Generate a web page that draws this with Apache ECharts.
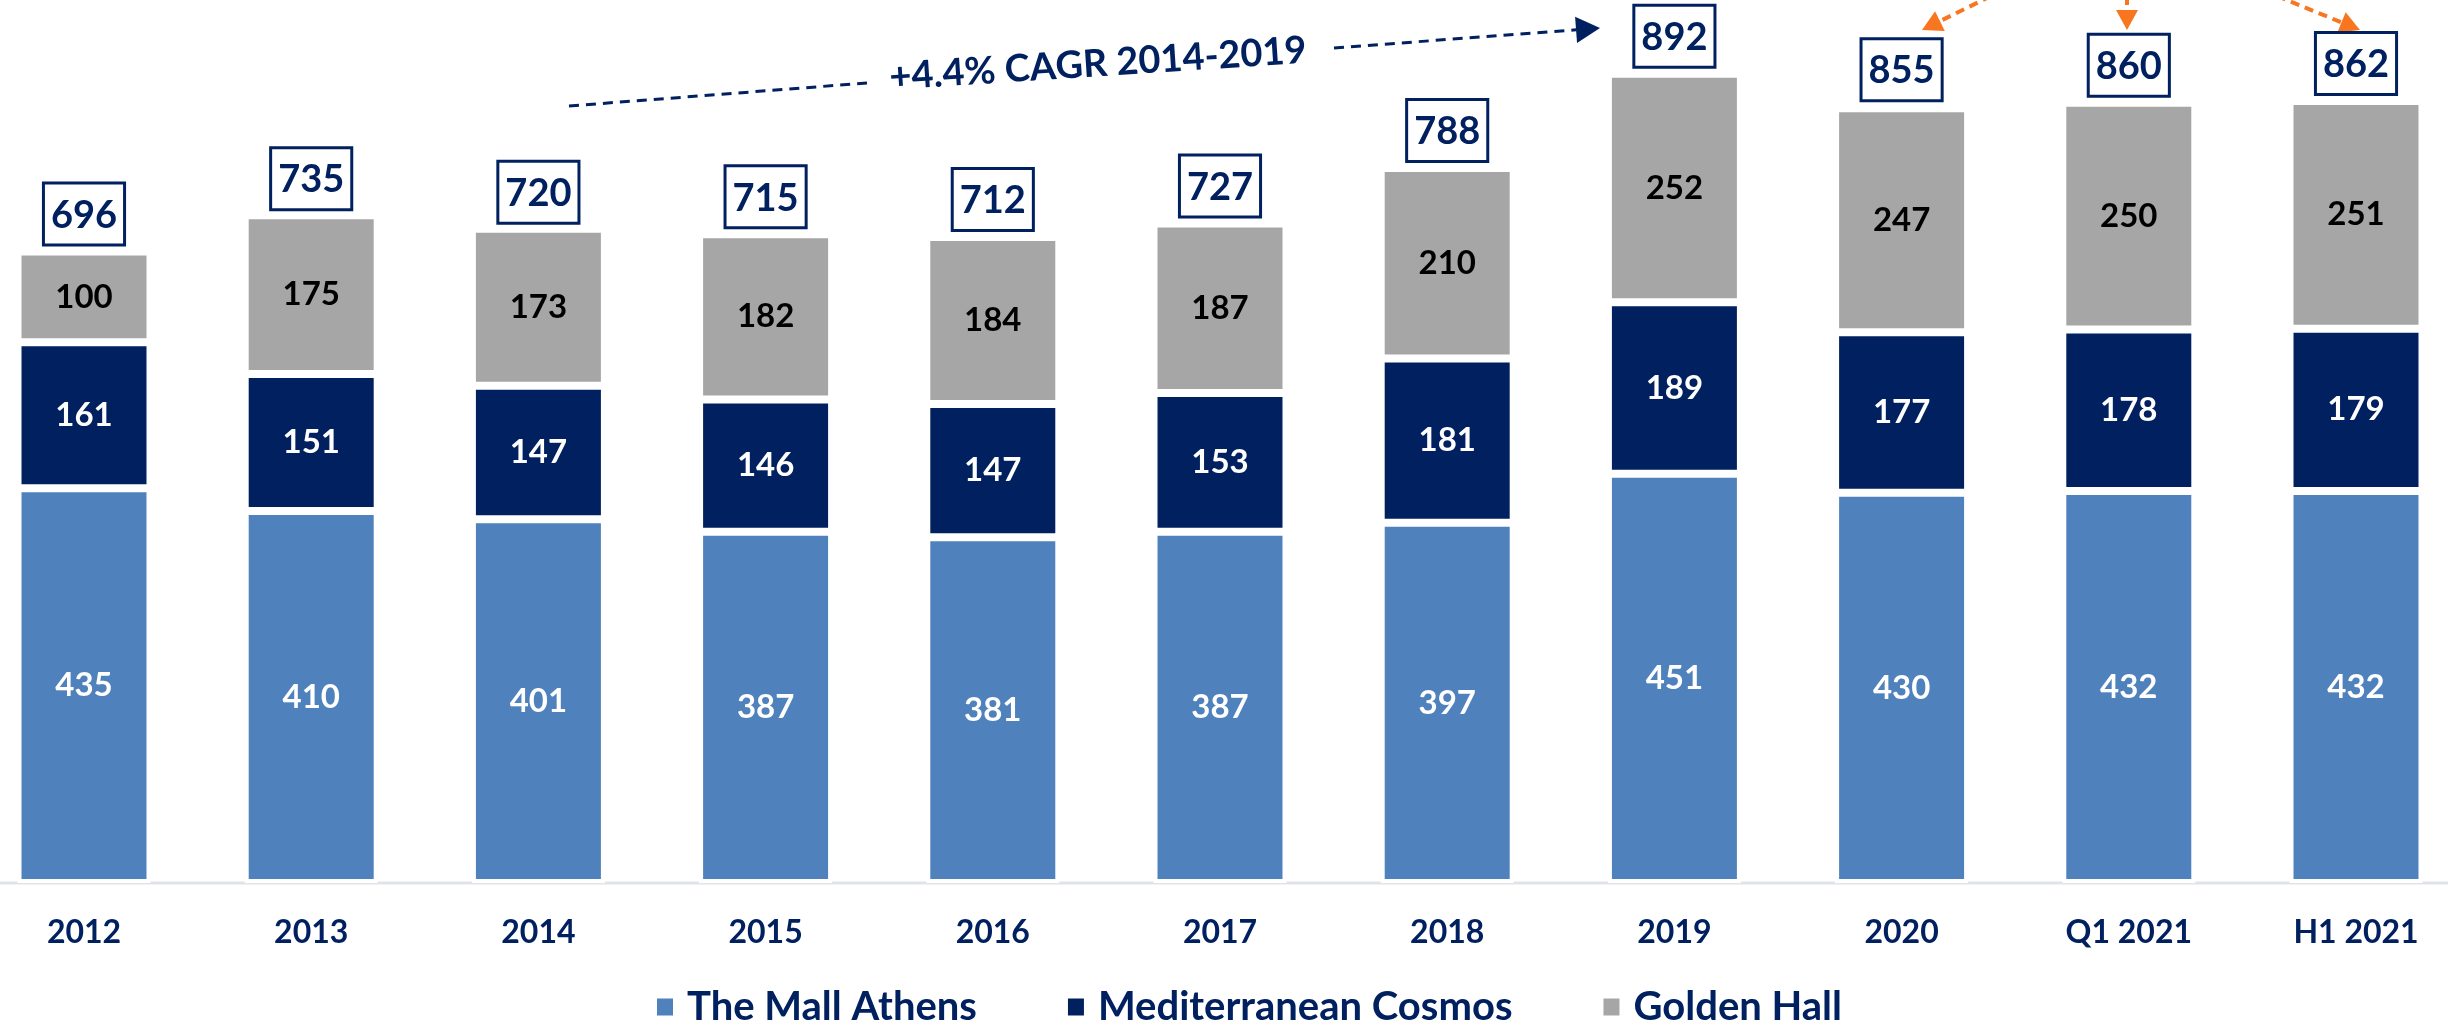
<!DOCTYPE html>
<html>
<head>
<meta charset="utf-8">
<title>Shopping malls</title>
<script src="https://cdn.jsdelivr.net/npm/echarts@6/dist/echarts.min.js"></script>
<style>
html, body { margin: 0; padding: 0; background: #fff; }
#main { width: 2448px; height: 1024px; }
</style>
</head>
<body>
<div id="main"></div>
<script>
// categories and values
var periods = ['2012', '2013', '2014', '2015', '2016', '2017', '2018', '2019', '2020', 'Q1 2021', 'H1 2021'];
var mallAthens = [435, 410, 401, 387, 381, 387, 397, 451, 430, 432, 432];
var medCosmos = [161, 151, 147, 146, 147, 153, 181, 189, 177, 178, 179];
var goldenHall = [100, 175, 173, 182, 184, 187, 210, 252, 247, 250, 251];
var totals = [696, 735, 720, 715, 712, 727, 788, 892, 855, 860, 862];
var cagrText = '+4.4% CAGR 2014-2019';

var NAVY = '#002060';
var LIGHT = '#4F81BD';
var GREY = '#A6A6A6';
var ORANGE = '#F7761F';
var FONT = 'Lato';

var myChart = echarts.init(document.getElementById('main'));

// label style for the stacked segments
function segLabel(col) {
	return {
		show: true,
		position: 'inside',
		color: col,
		fontFamily: FONT,
		fontWeight: 'bold',
		fontSize: 33
	};
}

function segSeries(name, data, col, labCol) {
	return {
		name: name,
		type: 'bar',
		stack: 'all',
		barWidth: 133,
		clip: false,
		data: data,
		itemStyle: { color: col, borderColor: '#fff', borderWidth: 4 },
		label: segLabel(labCol)
	};
}

// dashed arrow, drawn as line + triangle head
function arrow(x1, y1, x2, y2, col, width, head, dash) {
	var ang = Math.atan2(y2 - y1, x2 - x1);
	var bx = x2 - Math.cos(ang) * head;
	var by = y2 - Math.sin(ang) * head;
	var hw = head * 0.55;
	var px = -Math.sin(ang) * hw, py = Math.cos(ang) * hw;
	return [{
		type: 'line',
		shape: { x1: x1, y1: y1, x2: bx, y2: by },
		style: { stroke: col, lineWidth: width, lineDash: dash }
	}, {
		type: 'polygon',
		shape: { points: [[x2, y2], [bx + px, by + py], [bx - px, by - py]] },
		style: { fill: col }
	}];
}

var gfx = [];
// baseline across the whole width
gfx.push({
	type: 'line',
	z: -1,
	shape: { x1: 0, y1: 883, x2: 2448, y2: 883 },
	style: { stroke: '#E0E3E8', lineWidth: 3 }
});
// CAGR dashed line, first part without head
gfx.push({
	type: 'line',
	shape: { x1: 569, y1: 106, x2: 867, y2: 83 },
	style: { stroke: NAVY, lineWidth: 3, lineDash: [10, 7] }
});
gfx = gfx.concat(arrow(1334, 48, 1600, 28, NAVY, 3, 24, [10, 7]));
gfx.push({
	type: 'text',
	x: 1098,
	y: 64,
	rotation: 0.065,
	style: {
		text: cagrText,
		fill: NAVY,
		font: 'bold 38px ' + FONT,
		textAlign: 'center',
		textVerticalAlign: 'middle'
	}
});
// orange arrows coming from above
gfx = gfx.concat(arrow(1991, -4, 1922, 30, ORANGE, 4, 20, [9, 6]));
gfx = gfx.concat(arrow(2127, -4, 2127, 30, ORANGE, 4, 20, [9, 6]));
gfx = gfx.concat(arrow(2277, -4, 2360, 30, ORANGE, 4, 20, [9, 6]));

myChart.setOption({
	animation: false,
	grid: { left: 84, right: 92, top: 2, bottom: 141, containLabel: false },
	legend: {
		data: ['The Mall Athens', 'Mediterranean Cosmos', 'Golden Hall'],
		left: 650,
		top: 982,
		icon: 'rect',
		itemWidth: 18,
		itemHeight: 19,
		itemGap: 89,
		textStyle: {
			color: NAVY,
			fontFamily: FONT,
			fontWeight: 'bold',
			fontSize: 40,
			padding: [0, 0, 0, 8]
		}
	},
	xAxis: {
		type: 'category',
		data: periods,
		boundaryGap: false,
		axisLine: { show: false },
		axisTick: { show: false },
		axisLabel: {
			color: NAVY,
			fontFamily: FONT,
			fontWeight: 'bold',
			fontSize: 32,
			margin: 34
		}
	},
	yAxis: {
		type: 'value',
		min: 0,
		max: 971,
		show: false,
		splitLine: { show: false }
	},
	series: [
		segSeries('The Mall Athens', mallAthens, LIGHT, '#fff'),
		segSeries('Mediterranean Cosmos', medCosmos, NAVY, '#fff'),
		segSeries('Golden Hall', goldenHall, GREY, '#000'),
		{
			name: 'Total',
			type: 'bar',
			barWidth: 133,
			barGap: '-100%',
			clip: false,
			data: totals,
			z: 1,
			itemStyle: { color: 'rgba(0,0,0,0)' },
			label: {
				show: true,
				position: 'top',
				distance: 8,
				color: NAVY,
				fontFamily: FONT,
				fontWeight: 'bold',
				fontSize: 38,
				backgroundColor: '#fff',
				borderColor: NAVY,
				borderWidth: 3,
				padding: [12, 6, 9, 6]
			}
		}
	],
	graphic: gfx
});
</script>
</body>
</html>
